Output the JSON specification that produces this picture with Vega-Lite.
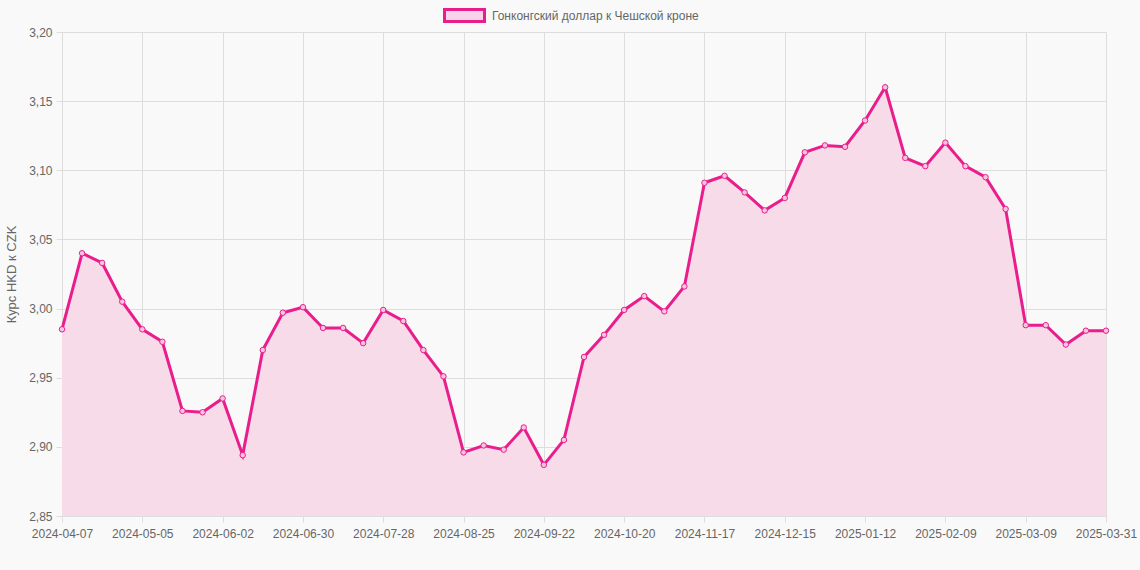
{
  "$schema": "https://vega.github.io/schema/vega-lite/v6.json",
  "description": "Курс гонконгского доллара к чешской кроне, еженедельно",
  "autosize": "none",
  "width": 1044,
  "height": 484,
  "padding": {"left": 62, "top": 32, "right": 34, "bottom": 54},
  "background": "#f9f9f9",
  "config": {
    "view": {"stroke": null},
    "font": "Liberation Sans",
    "axis": {
      "labelColor": "#666666",
      "labelFontSize": 12,
      "titleColor": "#666666",
      "titleFontSize": 13,
      "titleFontWeight": "normal",
      "gridColor": "#dddddd",
      "tickColor": "#dddddd",
      "domainColor": "#dddddd",
      "tickSize": 6,
      "labelOverlap": false
    }
  },
  "data": {
    "values": [
      {"date": "2024-04-07", "rate": 2.985},
      {"date": "2024-04-14", "rate": 3.040},
      {"date": "2024-04-21", "rate": 3.033},
      {"date": "2024-04-28", "rate": 3.005},
      {"date": "2024-05-05", "rate": 2.985},
      {"date": "2024-05-12", "rate": 2.976},
      {"date": "2024-05-19", "rate": 2.926},
      {"date": "2024-05-26", "rate": 2.925},
      {"date": "2024-06-02", "rate": 2.935},
      {"date": "2024-06-09", "rate": 2.894},
      {"date": "2024-06-16", "rate": 2.970},
      {"date": "2024-06-23", "rate": 2.997},
      {"date": "2024-06-30", "rate": 3.001},
      {"date": "2024-07-07", "rate": 2.986},
      {"date": "2024-07-14", "rate": 2.986},
      {"date": "2024-07-21", "rate": 2.975},
      {"date": "2024-07-28", "rate": 2.999},
      {"date": "2024-08-04", "rate": 2.991},
      {"date": "2024-08-11", "rate": 2.970},
      {"date": "2024-08-18", "rate": 2.951},
      {"date": "2024-08-25", "rate": 2.896},
      {"date": "2024-09-01", "rate": 2.901},
      {"date": "2024-09-08", "rate": 2.898},
      {"date": "2024-09-15", "rate": 2.914},
      {"date": "2024-09-22", "rate": 2.887},
      {"date": "2024-09-29", "rate": 2.905},
      {"date": "2024-10-06", "rate": 2.965},
      {"date": "2024-10-13", "rate": 2.981},
      {"date": "2024-10-20", "rate": 2.999},
      {"date": "2024-10-27", "rate": 3.009},
      {"date": "2024-11-03", "rate": 2.998},
      {"date": "2024-11-10", "rate": 3.016},
      {"date": "2024-11-17", "rate": 3.091},
      {"date": "2024-11-24", "rate": 3.096},
      {"date": "2024-12-01", "rate": 3.084},
      {"date": "2024-12-08", "rate": 3.071},
      {"date": "2024-12-15", "rate": 3.080},
      {"date": "2024-12-22", "rate": 3.113},
      {"date": "2024-12-29", "rate": 3.118},
      {"date": "2025-01-05", "rate": 3.117},
      {"date": "2025-01-12", "rate": 3.136},
      {"date": "2025-01-19", "rate": 3.160},
      {"date": "2025-01-26", "rate": 3.109},
      {"date": "2025-02-02", "rate": 3.103},
      {"date": "2025-02-09", "rate": 3.120},
      {"date": "2025-02-16", "rate": 3.103},
      {"date": "2025-02-23", "rate": 3.095},
      {"date": "2025-03-02", "rate": 3.072},
      {"date": "2025-03-09", "rate": 2.988},
      {"date": "2025-03-16", "rate": 2.988},
      {"date": "2025-03-23", "rate": 2.974},
      {"date": "2025-03-30", "rate": 2.984},
      {"date": "2025-03-31", "rate": 2.984}
    ]
  },
  "encoding": {
    "x": {
      "field": "date",
      "type": "ordinal",
      "sort": null,
      "scale": {"type": "point", "padding": 0},
      "axis": {
        "title": null,
        "labelAngle": 0,
        "labelPadding": 6,
        "labelBound": false,
        "labelFlush": false,
        "grid": true,
        "values": ["2024-04-07", "2024-05-05", "2024-06-02", "2024-06-30", "2024-07-28", "2024-08-25", "2024-09-22", "2024-10-20", "2024-11-17", "2024-12-15", "2025-01-12", "2025-02-09", "2025-03-09", "2025-03-31"]
      }
    },
    "y": {
      "field": "rate",
      "type": "quantitative",
      "scale": {"domain": [2.85, 3.2], "zero": false, "nice": false},
      "axis": {
        "title": "Курс HKD к CZK",
        "titlePadding": 10,
        "labelPadding": 4,
        "values": [2.85, 2.9, 2.95, 3.0, 3.05, 3.1, 3.15, 3.2],
        "labelExpr": "replace(format(datum.value, '.2f'), '.', ',')"
      }
    }
  },
  "layer": [
    {
      "mark": {"type": "area", "fill": "#f7dbe9", "opacity": 1, "clip": true},
      "encoding": {
        "color": {
          "datum": "Гонконгский доллар к Чешской кроне",
          "scale": {"range": ["#f9d3e7"]},
          "legend": {
            "title": null,
            "orient": "none",
            "legendX": 381,
            "legendY": -38,
            "labelColor": "#666666",
            "labelFontSize": 12,
            "labelLimit": 400,
            "labelOffset": 6,
            "symbolType": "M-1,-0.3L1,-0.3L1,0.3L-1,0.3Z",
            "symbolSize": 1600,
            "symbolOffset": 0,
            "symbolStrokeColor": "#e91e8c",
            "symbolStrokeWidth": 3,
            "encode": {
              "symbols": {
                "enter": {
                  "stroke": {"value": "#e91e8c"},
                  "strokeWidth": {"value": 3}
                },
                "update": {
                  "fill": {"value": "#f9d3e7"},
                  "stroke": {"value": "#e91e8c"},
                  "strokeWidth": {"value": 3},
                  "opacity": {"value": 1}
                }
              }
            }
          }
        }
      }
    },
    {
      "mark": {"type": "line", "color": "#e91e8c", "strokeWidth": 3},
      "encoding": {}
    },
    {
      "mark": {"type": "point", "shape": "circle", "size": 30, "filled": true, "fill": "#f7c4e0", "stroke": "#e91e8c", "strokeWidth": 1, "opacity": 1},
      "encoding": {}
    }
  ]
}
